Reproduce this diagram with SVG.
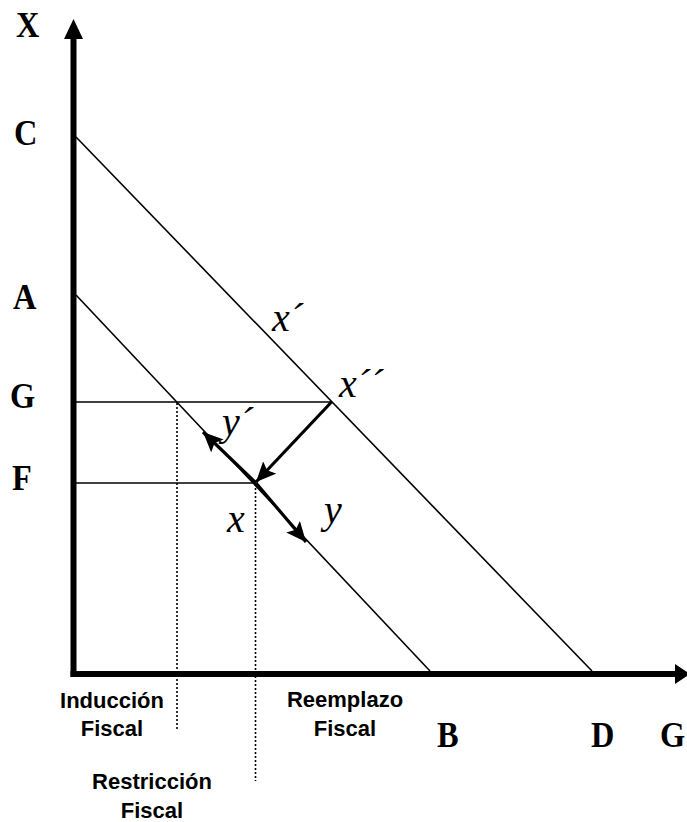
<svg xmlns="http://www.w3.org/2000/svg" width="687" height="822" viewBox="0 0 687 822">
<style>
.lbl{font-family:"Liberation Serif","Times New Roman",serif;font-weight:bold;font-size:36px;fill:#000}
.it{font-family:"Liberation Serif","Times New Roman",serif;font-style:italic;font-size:40px;fill:#000}
.sans{font-family:"Liberation Sans",Arial,sans-serif;font-weight:bold;font-size:22px;fill:#000;text-anchor:middle}
.thin{stroke:#000;stroke-width:1.6;fill:none}
.dot{stroke:#000;stroke-width:1.6;stroke-dasharray:2 2;fill:none}
.thick{stroke:#000;stroke-width:3.2;fill:none;marker-end:url(#ah)}
</style>
<defs>
<marker id="ah" markerUnits="userSpaceOnUse" markerWidth="22" markerHeight="18" viewBox="0 0 22 18" refX="20" refY="9" orient="auto">
<path d="M0,0 L20,9 L0,18 L4,9 Z" fill="#000"/>
</marker>
</defs>
<rect width="687" height="822" fill="#fff"/>
<g id="axes">
<line x1="73.5" y1="677" x2="73.5" y2="36" stroke="#000" stroke-width="6"/>
<polygon points="64,39 73.5,19 83,39" fill="#000"/>
<line x1="70.5" y1="674" x2="678" y2="674" stroke="#000" stroke-width="6"/>
<polygon points="675,664 690,674 675,684" fill="#000"/>
</g>
<g id="connectors">
<line class="thin" x1="76" y1="137" x2="592" y2="671"/>
<line class="thin" x1="76" y1="295" x2="430" y2="671"/>
<line class="thin" x1="76" y1="402" x2="332" y2="402"/>
<line class="thin" x1="76" y1="483" x2="256" y2="483"/>
<line class="dot" x1="177" y1="403" x2="177" y2="729"/>
<line class="dot" x1="255.5" y1="484" x2="255.5" y2="781"/>
<line class="thick" x1="331.5" y1="402" x2="256" y2="482"/>
<line class="thick" x1="256" y1="483" x2="203" y2="432"/>
<line class="thick" x1="256" y1="483" x2="306" y2="542"/>
</g>
<g id="axis-labels">
<text class="lbl" transform="translate(16,37) scale(0.9,1)">X</text>
<text class="lbl" transform="translate(14,145) scale(0.9,1)">C</text>
<text class="lbl" transform="translate(13,309) scale(0.9,1)">A</text>
<text class="lbl" transform="translate(10,408) scale(0.9,1)">G</text>
<text class="lbl" transform="translate(12,490) scale(0.9,1)">F</text>
<text class="lbl" transform="translate(437,747) scale(0.9,1)">B</text>
<text class="lbl" transform="translate(591,747) scale(0.9,1)">D</text>
<text class="lbl" transform="translate(660,747) scale(0.9,1)">G</text>
</g>
<g id="point-labels">
<text class="it" x="272" y="331">x´</text>
<text class="it" x="339" y="397">x´´</text>
<text class="it" x="222" y="435">y´</text>
<text class="it" x="227" y="532">x</text>
<text class="it" x="324" y="523">y</text>
</g>
<g id="region-labels">
<text class="sans" x="112" y="708">Inducción</text>
<text class="sans" x="112" y="736">Fiscal</text>
<text class="sans" x="345" y="707">Reemplazo</text>
<text class="sans" x="345" y="736">Fiscal</text>
<text class="sans" x="152" y="789">Restricción</text>
<text class="sans" x="152" y="818">Fiscal</text>
</g>
</svg>
